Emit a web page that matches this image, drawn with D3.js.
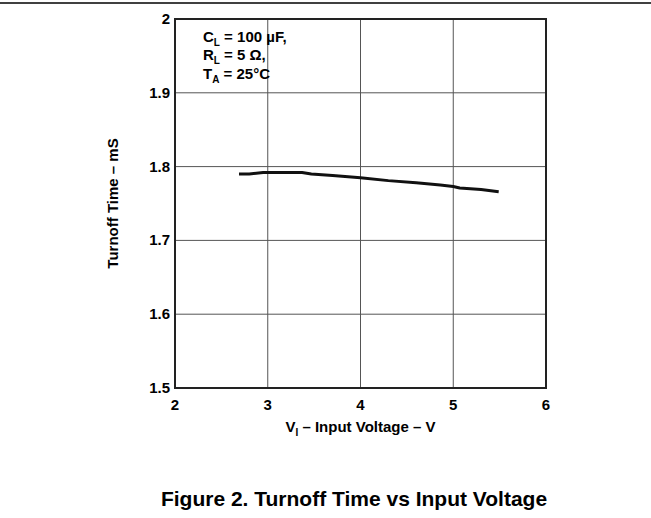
<!DOCTYPE html>
<html>
<head>
<meta charset="utf-8">
<script src="https://cdn.jsdelivr.net/npm/d3@7/dist/d3.min.js"></script>
<style>
  html, body { margin:0; padding:0; background:#fff; }
  svg { display:block; font-family:"Liberation Sans", Arial, sans-serif; font-weight:bold; }
</style>
</head>
<body>
<svg width="651" height="518"></svg>
<script>
// data
const voltage  = [2.69, 2.8, 2.95, 3.1, 3.37, 3.47, 3.7, 4.0, 4.3, 4.6, 4.86, 5.0, 5.07, 5.3, 5.49];
const turnoff  = [1.790, 1.790, 1.792, 1.792, 1.792, 1.790, 1.788, 1.785, 1.781, 1.778, 1.775, 1.773, 1.771, 1.769, 1.766];
const xTicks   = [2, 3, 4, 5, 6];
const yTicks   = [1.5, 1.6, 1.7, 1.8, 1.9, 2];
const yTickLbl = ["1.5", "1.6", "1.7", "1.8", "1.9", "2"];

const svg = d3.select("svg");
const L = 175, R = 546, T = 19, B = 388;

const x = d3.scaleLinear().domain([2, 6]).range([L, R]);
const y = d3.scaleLinear().domain([1.5, 2]).range([B, T]);

// rule at the top of the page
svg.append("line")
  .attr("x1", 0).attr("x2", 651).attr("y1", 3).attr("y2", 3)
  .attr("stroke", "#000").attr("stroke-width", 1.5);

// grid
const g = svg.append("g");
g.selectAll(".vx").data(xTicks.slice(1, -1)).join("line")
  .attr("x1", d => x(d)).attr("x2", d => x(d))
  .attr("y1", T).attr("y2", B)
  .attr("stroke", "#555").attr("stroke-width", 1);
g.selectAll(".hy").data(yTicks.slice(1, -1)).join("line")
  .attr("x1", L).attr("x2", R)
  .attr("y1", d => y(d)).attr("y2", d => y(d))
  .attr("stroke", "#555").attr("stroke-width", 1);

// frame
svg.append("rect")
  .attr("x", L).attr("y", T).attr("width", R - L).attr("height", B - T)
  .attr("fill", "none").attr("stroke", "#222").attr("stroke-width", 2);

// tick labels
svg.selectAll(".xt").data(xTicks).join("text")
  .attr("x", d => x(d)).attr("y", B + 22)
  .attr("text-anchor", "middle").attr("font-size", 15)
  .text(d => d);
svg.selectAll(".yt").data(yTicks).join("text")
  .attr("x", L - 5).attr("y", d => y(d) + 5)
  .attr("text-anchor", "end").attr("font-size", 15)
  .text((d, i) => yTickLbl[i]);

// axis titles
const xt = svg.append("text")
  .attr("x", x(4)).attr("y", B + 44)
  .attr("text-anchor", "middle").attr("font-size", 15);
xt.append("tspan").text("V");
xt.append("tspan").attr("font-size", 10).attr("dy", 4).text("I");
xt.append("tspan").attr("dy", -4).text(" – Input Voltage – V");

svg.append("text")
  .attr("transform", `translate(118,${(T + B) / 2}) rotate(-90)`)
  .attr("text-anchor", "middle").attr("font-size", 15)
  .text("Turnoff Time – mS");

// conditions box
const notes = [["C", "L", " = 100 µF,"], ["R", "L", " = 5 Ω,"], ["T", "A", " = 25°C"]];
notes.forEach((n, i) => {
  const t = svg.append("text")
    .attr("x", 203).attr("y", 42 + i * 18.3).attr("font-size", 15);
  t.append("tspan").text(n[0]);
  t.append("tspan").attr("font-size", 10).attr("dy", 4).text(n[1]);
  t.append("tspan").attr("dy", -4).text(n[2]);
});

// curve
const line = d3.line().x((d, i) => x(voltage[i])).y(d => y(d));
svg.append("path")
  .datum(turnoff)
  .attr("d", line)
  .attr("fill", "none").attr("stroke", "#111").attr("stroke-width", 3)
  .attr("stroke-linejoin", "round");

// caption
svg.append("text")
  .attr("x", 354).attr("y", 506)
  .attr("text-anchor", "middle").attr("font-size", 21)
  .text("Figure 2. Turnoff Time vs Input Voltage");
</script>
</body>
</html>
